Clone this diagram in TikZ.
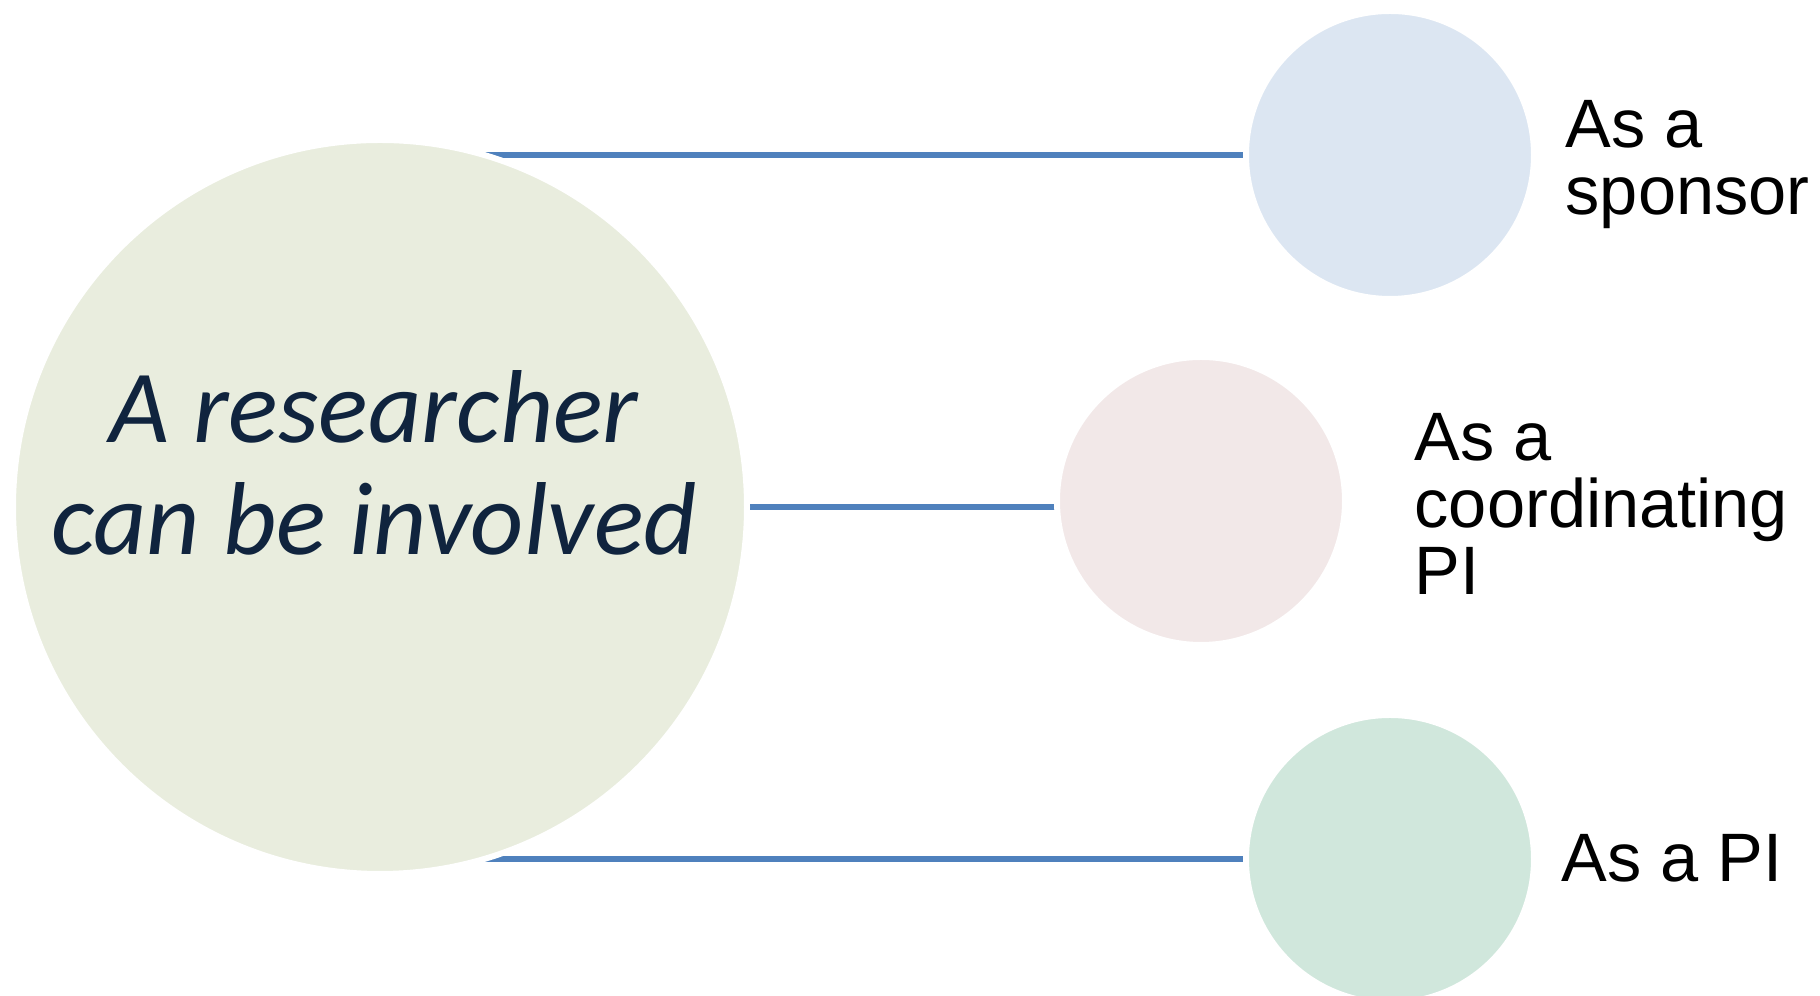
\documentclass[tikz,border=0pt]{standalone}
\usepackage{fontspec}
\setmainfont{Liberation Sans}
\newfontfamily\calibri{Carlito}
\usepackage{tikz}
\usetikzlibrary{backgrounds}

\definecolor{rescolor}{RGB}{233,237,222}
\definecolor{sponsorcolor}{RGB}{220,230,242}
\definecolor{coordcolor}{RGB}{242,232,232}
\definecolor{picolor}{RGB}{208,231,220}
\definecolor{linkcolor}{RGB}{79,129,189}
\definecolor{navy}{RGB}{16,36,62}

\begin{document}
\begin{tikzpicture}[
    bubble/.style={circle, draw=white, line width=0.06cm, inner sep=0pt, minimum size=2.88cm},
    role/.style={align=left, inner sep=0pt, anchor=base west, font=\fontsize{19.5}{19.2}\selectfont},
    link/.style={draw=linkcolor, line width=0.06cm}
]
    \useasboundingbox (0,0) rectangle (18.2,9.96);

    % circles
    \node[bubble, fill=rescolor, minimum size=7.34cm] (res) at (3.80,4.89) {};
    \node[bubble, fill=sponsorcolor] (sp) at (13.90,8.41) {};
    \node[bubble, fill=coordcolor] (co) at (12.01,4.95) {};
    \node[bubble, fill=picolor] (pi) at (13.90,1.37) {};

    % base anchor sits on the last line
    \node[align=center, inner sep=0pt, anchor=base, text=navy,
          font=\calibri\itshape\fontsize{29.5}{32.1}\selectfont] (restext) at (3.74,4.41)
        {A researcher\\can be involved};

    % connectors go under the circles
    \begin{scope}[on background layer]
        \draw[link] (res |- sp) -- (sp);
        \draw[link] (res) -- (res -| co);
        \draw[link] (res |- pi) -- (pi);
    \end{scope}

    % labels
    \node[role] (splabel) at (15.65,7.81) {As a\\sponsor};
    \node[role] (colabel) at (14.14,4.01) {As a\\coordinating\\PI};
    \node[role] (pilabel) at (15.61,1.14) {As a PI};
\end{tikzpicture}
\end{document}
